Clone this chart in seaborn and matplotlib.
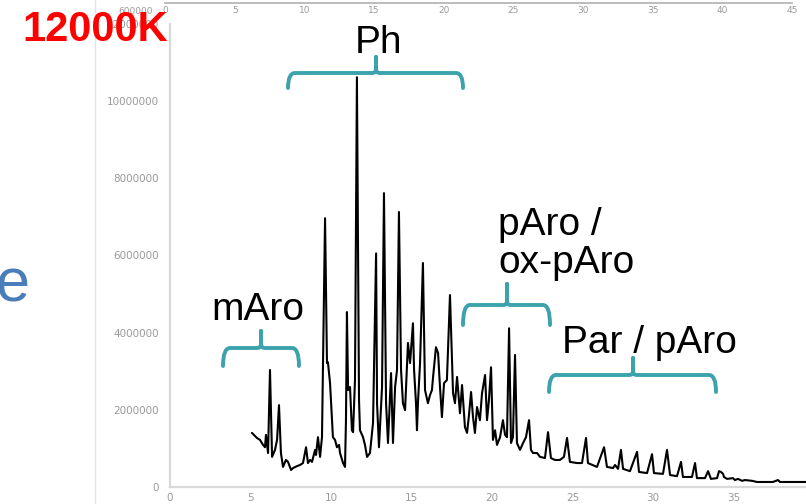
import numpy as np
import pandas as pd

import matplotlib
matplotlib.use('Agg')
import matplotlib.pyplot as plt
from matplotlib.path import Path
from matplotlib.patches import PathPatch
import seaborn as sns

# retention time (min) and TIC intensity
rt = [5.09, 5.40, 5.59, 5.78, 5.90, 5.96, 6.09, 6.21, 6.34, 6.52, 6.65, 6.77, 6.89, 7.02,
      7.20, 7.33, 7.52, 7.64, 7.89, 8.07, 8.26, 8.45, 8.57, 8.70, 8.82, 9.01, 9.07, 9.19,
      9.32, 9.44, 9.63, 9.75, 9.81, 9.94, 10.12, 10.25, 10.37, 10.50, 10.56, 10.75, 10.87,
      10.93, 10.99, 11.06, 11.18, 11.30, 11.37, 11.49, 11.61, 11.74, 11.80, 11.99, 12.11,
      12.24, 12.42, 12.61, 12.80, 12.86, 12.98, 13.17, 13.29, 13.42, 13.54, 13.73, 13.85,
      13.98, 14.10, 14.22, 14.35, 14.47, 14.60, 14.78, 14.91, 15.09, 15.16, 15.28, 15.34,
      15.40, 15.53, 15.71, 15.84, 16.02, 16.15, 16.27, 16.34, 16.52, 16.65, 16.77, 16.89,
      17.02, 17.20, 17.39, 17.58, 17.70, 17.83, 18.01, 18.14, 18.32, 18.45, 18.57, 18.70,
      18.82, 18.94, 19.07, 19.25, 19.38, 19.57, 19.69, 19.81, 19.94, 20.06, 20.19, 20.31,
      20.50, 20.68, 20.81, 20.93, 21.06, 21.18, 21.30, 21.43, 21.55, 21.74, 21.93, 22.11,
      22.30, 22.42, 22.55, 22.80, 22.98, 23.29, 23.35, 23.48, 23.66, 23.91, 24.22, 24.47,
      24.66, 24.84, 25.28, 25.59, 25.84, 25.96, 26.52, 26.96, 27.14, 27.52, 27.64, 27.83,
      28.01, 28.14, 28.57, 29.01, 29.13, 29.63, 29.94, 30.06, 30.62, 30.87, 31.06, 31.49,
      31.74, 31.86, 32.42, 32.61, 32.73, 33.23, 33.42, 33.60, 33.98, 34.10, 34.22, 34.35,
      34.41, 34.60, 34.97, 35.09, 35.28, 35.53, 35.71, 36.15, 36.46, 37.45, 37.76, 37.89,
      39.50]
intensity_m = [1.40, 1.27, 1.22, 1.09, 1.03, 1.35, 0.88, 3.03, 0.78, 0.96, 1.22, 2.12, 0.88, 0.52,
               0.70, 0.65, 0.44, 0.49, 0.54, 0.57, 0.62, 1.03, 0.62, 0.70, 0.65, 0.96, 0.83, 1.29,
               0.78, 1.29, 6.96, 3.21, 3.23, 2.69, 1.29, 1.22, 1.03, 1.09, 0.88, 0.62, 0.52,
               1.73, 4.53, 2.51, 2.59, 1.47, 1.42, 2.77, 10.61, 2.25, 1.47, 1.29, 1.09,
               0.78, 0.88, 1.66, 6.05, 2.17, 1.03, 2.59, 7.61, 2.17, 1.14, 2.95, 1.14,
               2.59, 3.03, 7.12, 3.03, 2.17, 1.99, 3.73, 3.21, 4.24, 3.03, 2.17, 1.47,
               2.17, 3.21, 5.80, 2.51, 2.17, 2.38, 2.51, 2.85, 3.62, 3.47, 2.59, 1.81,
               2.69, 2.77, 4.97, 2.43, 2.17, 2.85, 1.91, 2.64, 1.55, 1.40, 1.86, 2.46,
               1.81, 1.40, 2.07, 1.73, 2.43, 2.90, 1.73, 2.25, 3.10, 1.22, 1.47, 1.09,
               1.29, 1.73, 1.35, 1.29, 4.11, 1.14, 1.29, 3.42, 1.14, 0.96, 1.14, 1.29,
               1.73, 0.96, 0.88, 0.88, 0.78, 0.75, 0.96, 1.42, 0.75, 0.70, 0.70, 0.78,
               1.27, 0.65, 0.62, 0.62, 1.27, 0.62, 0.52, 1.03, 0.52, 0.49, 0.57, 0.47,
               0.96, 0.47, 0.41, 0.91, 0.39, 0.36, 0.85, 0.36, 0.34, 0.96, 0.31, 0.28,
               0.65, 0.26, 0.26, 0.62, 0.23, 0.23, 0.41, 0.21, 0.23, 0.41, 0.39, 0.34,
               0.26, 0.21, 0.23, 0.18, 0.21, 0.16, 0.18, 0.16, 0.13, 0.13, 0.18, 0.13,
               0.13]

x_ticks = [0, 5, 10, 15, 20, 25, 30, 35]
y_ticks = [0, 2000000, 4000000, 6000000, 8000000, 10000000, 12000000]
top_ticks = [0, 5, 10, 15, 20, 25, 30, 35, 40, 45]

groups = ["Ph", "mAro", "pAro /\nox-pAro", "Par / pAro"]

df = pd.DataFrame({'rt': rt, 'tic': np.array(intensity_m) * 1e6})

sns.set_style("white")
plt.rcParams['font.family'] = ['Liberation Sans', 'DejaVu Sans']
plt.rcParams['text.color'] = 'black'

W, H = 806, 504
fig = plt.figure(figsize=(W / 100, H / 100), dpi=100)

# main chromatogram
ax = fig.add_axes([170 / W, 1 - 487 / H, 1 - 170 / W, (487 - 23.6) / H])
sns.lineplot(data=df, x='rt', y='tic', color='black', lw=1.5, estimator=None,
             ax=ax)
ax.set_xlim(0, (W - 170) / 16.1)
ax.set_ylim(0, 12e6)
ax.set_xticks(x_ticks)
ax.set_xticklabels([str(t) for t in x_ticks])
ax.set_yticks(y_ticks)
ax.set_yticklabels([str(t) for t in y_ticks])
ax.set_xlabel('')
ax.set_ylabel('')
for s in ['top', 'right']:
    ax.spines[s].set_visible(False)
for s in ['left', 'bottom']:
    ax.spines[s].set_color('#d9d9d9')
    ax.spines[s].set_linewidth(1.6)
ax.tick_params(axis='both', length=0, labelsize=7.5, labelcolor='#9a9a9a')
ax.tick_params(axis='y', pad=8)
ax.tick_params(axis='x', pad=4)
for lab in ax.get_xticklabels() + ax.get_yticklabels():
    lab.set_family('DejaVu Sans')
ax.patch.set_alpha(0)

# strip of the chart above (only its x axis is visible)
ax2 = fig.add_axes([165 / W, 1 - 3 / H, (792 - 165) / W, 2 / H])
ax2.set_xlim(0, 45)
ax2.set_xticks(top_ticks)
ax2.set_xticklabels([str(t) for t in top_ticks])
ax2.set_yticks([])
for s in ['top', 'right', 'left']:
    ax2.spines[s].set_visible(False)
ax2.spines['bottom'].set_color('#b0b0b0')
ax2.spines['bottom'].set_linewidth(1.2)
ax2.tick_params(axis='x', length=0, labelsize=6.5, labelcolor='#9a9a9a', pad=2)
for lab in ax2.get_xticklabels():
    lab.set_family('DejaVu Sans')
ax2.patch.set_alpha(0)

# slide overlay in pixel coordinates
ov = fig.add_axes([0, 0, 1, 1], zorder=5)
ov.set_xlim(0, W)
ov.set_ylim(H, 0)
ov.axis('off')
ov.patch.set_alpha(0)

ov.plot([95, 95], [0, H], color='#e2e2e2', lw=1)
ov.text(153, 11, "600000", ha='right', va='center', fontsize=6.5,
        color='#9a9a9a', family='DejaVu Sans')
ov.text(22, 30, "12000K", ha='left', va='center', fontsize=30,
        fontweight='bold', color='#ff0000')
ov.text(29, 301, "e", ha='right', va='baseline', fontsize=44, color='#4a7ebb')

teal = '#3ca3ad'


def bracket(x0, xc, x1, yt, ym, yb, r=7, r2=4):
    verts = [(x0, yb), (x0, ym), (x0 + r, ym), (xc - r2, ym), (xc, ym), (xc, ym - r2),
             (xc, yt), (xc, ym - r2), (xc, ym), (xc + r2, ym), (x1 - r, ym), (x1, ym),
             (x1, yb)]
    codes = [Path.MOVETO, Path.CURVE3, Path.CURVE3, Path.LINETO, Path.CURVE3, Path.CURVE3,
             Path.LINETO, Path.LINETO, Path.CURVE3, Path.CURVE3, Path.LINETO, Path.CURVE3,
             Path.CURVE3]
    ov.add_patch(PathPatch(Path(verts, codes), fill=False, edgecolor=teal, lw=2.8,
                           capstyle='round', joinstyle='round'))


bracket(288, 376, 463, 57, 73, 88)
bracket(223, 261, 299, 331, 348, 366)
bracket(463, 507, 550, 284, 305, 325)
bracket(549, 633, 716, 358, 375, 392)

ov.text(378, 53, groups[0], ha='center', va='baseline', fontsize=28, color='black')
ov.text(258, 320, groups[1], ha='center', va='baseline', fontsize=28, color='black')
ov.text(498, 235, groups[2].split('\n')[0], ha='left', va='baseline', fontsize=28,
        color='black')
ov.text(498, 273, groups[2].split('\n')[1], ha='left', va='baseline', fontsize=28,
        color='black')
ov.text(562, 353, groups[3], ha='left', va='baseline', fontsize=28, color='black')

fig.savefig('out.png', dpi=100)
plt.close()
